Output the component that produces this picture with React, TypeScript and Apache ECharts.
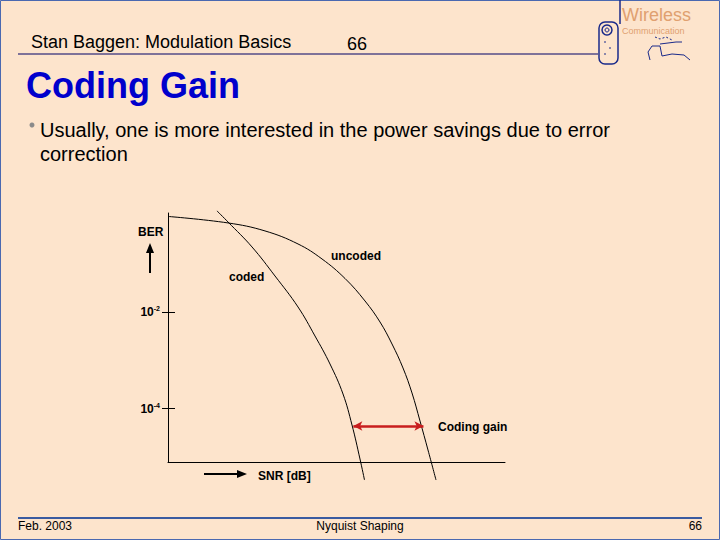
import React, { useEffect, useRef } from "react";
import * as echarts from "echarts";

// Uncoded BER curve (x: SNR in arbitrary units, y: log10 BER)
const snrUncoded = [0, 1.78, 2.878, 3.858, 4.57, 5.252, 5.846, 6.291, 6.647, 6.973, 7.24, 7.478, 7.715, 7.953];
const logBerUncoded = [-0.031, -0.165, -0.33, -0.599, -0.909, -1.311, -1.776, -2.21, -2.664, -3.159, -3.675, -4.254, -4.852, -5.472];
// Coded BER curve
const snrCoded = [1.454, 1.78, 2.493, 3.175, 3.858, 4.362, 4.807, 5.193, 5.46, 5.697, 5.831];
const logBerCoded = [0.083, -0.145, -0.661, -1.26, -1.9, -2.499, -3.077, -3.696, -4.336, -5.038, -5.472];
// Tick exponents on BER axis
const berTicks = [-2, -4];
// Coding gain arrow: level and SNR span
const gainLevel = -4.357;
const gainFrom = 5.5;
const gainTo = 7.58;

const FONT = 'Arial, "Liberation Sans", sans-serif';

function txt(text: string, x: number, y: number, size: number, opts: any = {}) {
  return {
    type: "text",
    silent: true,
    style: {
      text,
      x,
      y,
      fontSize: size,
      fontFamily: FONT,
      fontWeight: opts.weight || "normal",
      fill: opts.color || "#000",
      align: opts.align || "left",
      verticalAlign: "middle",
    },
  };
}

export default function App() {
  const ref = useRef<HTMLDivElement>(null);
  useEffect(() => {
    if (!ref.current) return;
    const chart = echarts.init(ref.current, null, { renderer: "svg" });
    const pairs = (xs: number[], ys: number[]) => xs.map((x, i) => [x, ys[i]]);
    const navy = "#1a2a8a";
    const orange = "#E0A070";
    chart.setOption({
      animation: false,
      backgroundColor: "#FDE4CC",
      grid: { left: 168, top: 213, width: 337, height: 249 },
      xAxis: {
        type: "value",
        min: 0,
        max: 10,
        axisLine: { show: true, onZero: false, lineStyle: { color: "#000", width: 1 } },
        axisTick: { show: false },
        axisLabel: { show: false },
        splitLine: { show: false },
      },
      yAxis: [
        {
          type: "value",
          min: -5.1,
          max: 0.04,
          axisLine: { show: true, onZero: false, lineStyle: { color: "#000", width: 1 } },
          axisTick: { show: true, length: 6, customValues: berTicks, lineStyle: { color: "#000" } },
          axisLabel: {
            customValues: berTicks,
            margin: 8,
            formatter: (v: number) => `{b|10}{s|${v}}`,
            rich: {
              b: { fontSize: 12, fontWeight: "bold", fontFamily: FONT, color: "#000" },
              s: { fontSize: 7, fontWeight: "bold", fontFamily: FONT, color: "#000", verticalAlign: "top", padding: [0, 0, 6, 0] },
            },
          },
          splitLine: { show: false },
        },
        {
          type: "value",
          min: -5.1,
          max: 0.04,
          position: "left",
          axisLine: { show: false },
          axisTick: { show: true, inside: true, length: 7, customValues: berTicks, lineStyle: { color: "#000" } },
          axisLabel: { show: false },
          splitLine: { show: false },
        },
      ],
      series: [
        {
          type: "line",
          name: "uncoded",
          data: pairs(snrUncoded, logBerUncoded),
          smooth: 0.4,
          showSymbol: false,
          clip: false,
          silent: true,
          lineStyle: { color: "#000", width: 1 },
        },
        {
          type: "line",
          name: "coded",
          data: pairs(snrCoded, logBerCoded),
          smooth: 0.4,
          showSymbol: false,
          clip: false,
          silent: true,
          lineStyle: { color: "#000", width: 1 },
          markLine: {
            silent: true,
            symbol: ["arrow", "arrow"],
            symbolSize: [7, 9],
            label: { show: false },
            lineStyle: { color: "#C81E1E", width: 2.5, type: "solid" },
            data: [[{ coord: [gainFrom, gainLevel] }, { coord: [gainTo, gainLevel] }]],
          },
        },
      ],
      graphic: [
        // slide border
        { type: "rect", silent: true, shape: { x: 0.5, y: 0.5, width: 719, height: 539 }, style: { fill: "none", stroke: "#4a68b0", lineWidth: 1 } },
        // header
        txt("Stan Baggen: Modulation Basics", 31, 42, 18),
        txt("66", 347, 44, 18),
        { type: "line", silent: true, shape: { x1: 18, y1: 54, x2: 598, y2: 54 }, style: { stroke: "#000066", lineWidth: 1 } },
        txt("Coding Gain", 26, 85, 36, { weight: "bold", color: "#0000CC" }),
        // bullet
        { type: "circle", silent: true, shape: { cx: 32, cy: 125, r: 2.5 }, style: { fill: "#8a8a8a" } },
        txt("Usually, one is more interested in the power savings due to error", 40, 130, 20),
        txt("correction", 40, 154, 20),
        // chart labels
        txt("BER", 138, 232, 12, { weight: "bold" }),
        txt("uncoded", 331, 256, 12, { weight: "bold" }),
        txt("coded", 229, 277, 12, { weight: "bold" }),
        txt("Coding gain", 438, 427, 12, { weight: "bold" }),
        txt("SNR [dB]", 258, 476, 12, { weight: "bold" }),
        // BER up arrow
        { type: "line", silent: true, shape: { x1: 150, y1: 273, x2: 150, y2: 252 }, style: { stroke: "#000", lineWidth: 2 } },
        { type: "polygon", silent: true, shape: { points: [[150, 243], [146, 253], [154, 253]] }, style: { fill: "#000" } },
        // SNR right arrow
        { type: "line", silent: true, shape: { x1: 204, y1: 474, x2: 238, y2: 474 }, style: { stroke: "#000", lineWidth: 2 } },
        { type: "polygon", silent: true, shape: { points: [[247, 474], [237, 470], [237, 478]] }, style: { fill: "#000" } },
        // logo
        { type: "rect", silent: true, shape: { x: 599, y: 22, width: 19, height: 42, r: 6 }, style: { fill: "none", stroke: navy, lineWidth: 1.5 } },
        { type: "circle", silent: true, shape: { cx: 607, cy: 30, r: 5 }, style: { fill: "none", stroke: navy, lineWidth: 1.5 } },
        { type: "circle", silent: true, shape: { cx: 607, cy: 30, r: 2 }, style: { fill: "none", stroke: navy, lineWidth: 1 } },
        { type: "line", silent: true, shape: { x1: 620, y1: 0, x2: 620, y2: 24 }, style: { stroke: navy, lineWidth: 1.5 } },
        { type: "line", silent: true, shape: { x1: 604, y1: 42, x2: 606, y2: 42 }, style: { stroke: navy, lineWidth: 1 } },
        { type: "line", silent: true, shape: { x1: 609, y1: 48, x2: 611, y2: 48 }, style: { stroke: navy, lineWidth: 1 } },
        { type: "line", silent: true, shape: { x1: 604, y1: 54, x2: 606, y2: 54 }, style: { stroke: navy, lineWidth: 1 } },
        txt("Wireless", 622, 15, 18, { color: orange }),
        txt("Communication", 622, 31, 9, { color: orange }),
        { type: "polyline", silent: true, shape: { points: [[650, 60], [648, 52], [652, 46], [660, 46], [662, 56], [672, 54], [684, 55], [690, 60]] }, style: { fill: "none", stroke: navy, lineWidth: 1 } },
        { type: "polyline", silent: true, shape: { points: [[660, 44], [676, 42], [682, 42]] }, style: { fill: "none", stroke: navy, lineWidth: 1 } },
        { type: "polyline", silent: true, shape: { points: [[655, 37], [660, 39], [666, 37], [672, 40]] }, style: { fill: "none", stroke: navy, lineWidth: 1, lineDash: [2, 2] } },
        // footer
        { type: "line", silent: true, shape: { x1: 18, y1: 518, x2: 702, y2: 518 }, style: { stroke: "#3a5ba0", lineWidth: 2 } },
        txt("Feb. 2003", 18, 526, 12),
        txt("Nyquist Shaping", 360, 526, 12, { align: "center" }),
        txt("66", 702, 526, 12, { align: "right" }),
      ],
    });
    return () => chart.dispose();
  }, []);
  return <div ref={ref} style={{ position: "absolute", left: 0, top: 0, width: 720, height: 540 }} />;
}
